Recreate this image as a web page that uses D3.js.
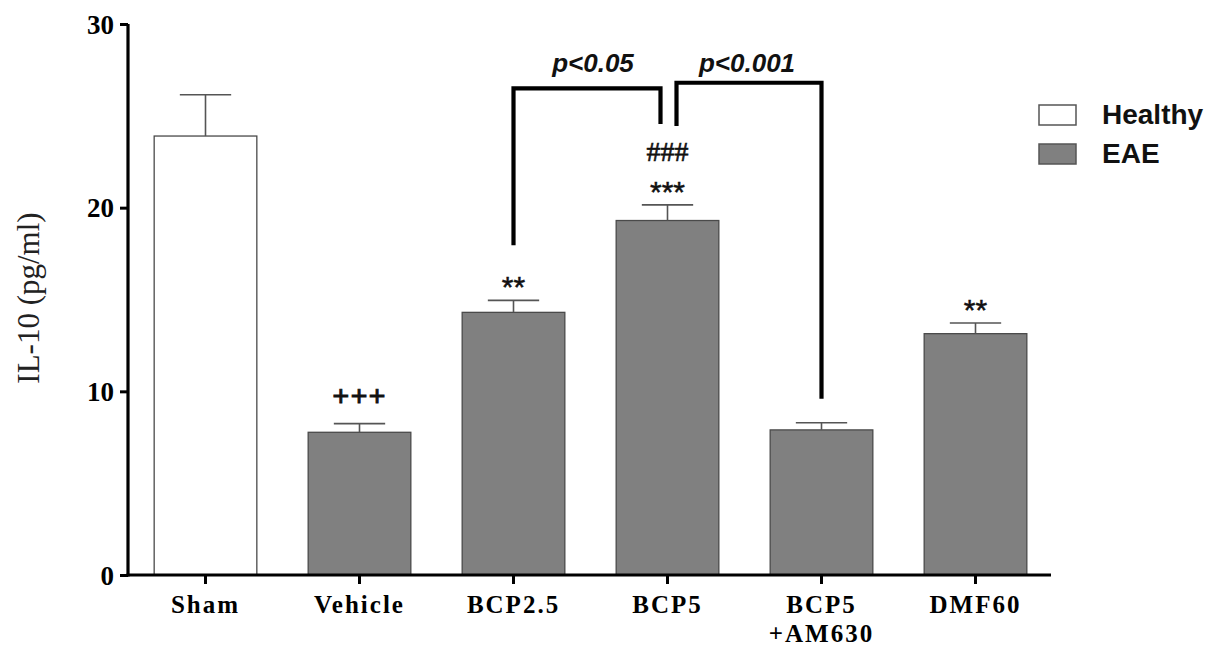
<!DOCTYPE html>
<html>
<head>
<meta charset="utf-8">
<script src="https://cdn.jsdelivr.net/npm/d3@7"></script>
<style>
  html, body { margin: 0; padding: 0; background: #fff; }
  svg { display: block; }
</style>
</head>
<body>
<svg id="chart" width="1217" height="650"></svg>
<script>
// IL-10 levels per treatment group (mean and SEM, pg/ml)
const categories = ["Sham", "Vehicle", "BCP2.5", "BCP5", "BCP5\n+AM630", "DMF60"];
const groups     = ["Healthy", "EAE", "EAE", "EAE", "EAE", "EAE"];
const means      = [23.9, 7.77, 14.3, 19.3, 7.9, 13.14];
const sems       = [2.25, 0.47, 0.65, 0.85, 0.39, 0.58];
const marks      = ["", "+++", "**", "***", "", "**"];
const yTicks     = [0, 10, 20, 30];
const legendKeys = ["Healthy", "EAE"];

// Comparison brackets: from/to group, top level and leg end levels (pg/ml)
const brackets = [
  { from: "BCP2.5", to: "BCP5", top: 26.5, leftEnd: 17.95, rightEnd: 24.55, label: "p<0.05", shiftTo: -7, labelDx: 6 },
  { from: "BCP5", to: "BCP5\n+AM630", top: 26.8, leftEnd: 24.45, rightEnd: 9.6, label: "p<0.001", shiftFrom: 9, labelDx: -2 }
];

const svg = d3.select("#chart");
const fill = { Healthy: "#ffffff", EAE: "#808080" };

const x = d3.scaleBand()
  .domain(categories)
  .range([128.5, 1052.5])
  .paddingInner(1 / 3)
  .paddingOuter(1 / 6);

const y = d3.scaleLinear().domain([0, 30]).range([575, 24]);

const serif = "'Liberation Serif', 'Times New Roman', serif";
const sans = "'Liberation Sans', Arial, sans-serif";

// Bars
svg.append("g").selectAll("rect")
  .data(categories)
  .join("rect")
  .attr("x", d => x(d))
  .attr("y", (d, i) => y(means[i]))
  .attr("width", x.bandwidth())
  .attr("height", (d, i) => y(0) - y(means[i]))
  .attr("fill", (d, i) => fill[groups[i]])
  .attr("stroke", "#4a4a4a")
  .attr("stroke-width", 1.3);

// Upper error bars
const eb = svg.append("g").attr("stroke", "#555").attr("stroke-width", 1.6);
categories.forEach((c, i) => {
  const cx = x(c) + x.bandwidth() / 2;
  const top = y(means[i] + sems[i]);
  eb.append("line").attr("x1", cx).attr("x2", cx).attr("y1", y(means[i])).attr("y2", top);
  eb.append("line").attr("x1", cx - x.bandwidth() / 4).attr("x2", cx + x.bandwidth() / 4)
    .attr("y1", top).attr("y2", top);
});

// Y axis
const yAxis = svg.append("g")
  .attr("transform", "translate(128,0)")
  .call(d3.axisLeft(y).tickValues(yTicks).tickSize(8).tickPadding(6));
yAxis.select(".domain").attr("stroke", "#000").attr("stroke-width", 3.2)
  .attr("d", `M0,${y(30)}V${y(0) + 1.5}`);
yAxis.selectAll(".tick line").attr("stroke", "#000").attr("stroke-width", 3);
yAxis.selectAll(".tick text")
  .attr("font-family", serif).attr("font-weight", "bold").attr("font-size", 27)
  .attr("fill", "#000").attr("dy", "0.34em");

// X axis
const xAxis = svg.append("g")
  .attr("transform", `translate(0,${y(0)})`)
  .call(d3.axisBottom(x).tickSize(9).tickFormat(""));
xAxis.select(".domain").attr("stroke", "#000").attr("stroke-width", 3.2)
  .attr("d", `M${126.5},0H${1051}`);
xAxis.selectAll(".tick line").attr("stroke", "#000").attr("stroke-width", 3);

// Category labels (multi-line where needed)
svg.append("g").selectAll("text")
  .data(categories)
  .join("text")
  .attr("x", d => x(d) + x.bandwidth() / 2)
  .attr("y", 612.5)
  .attr("text-anchor", "middle")
  .attr("font-family", serif).attr("font-weight", "bold").attr("font-size", 25)
  .attr("letter-spacing", 2)
  .each(function (d) {
    d.split("\n").forEach((line, k) => {
      d3.select(this).append("tspan")
        .attr("x", x(d) + x.bandwidth() / 2)
        .attr("dy", k === 0 ? 0 : 29)
        .text(line);
    });
  });

// Y axis title
svg.append("text")
  .attr("transform", `translate(39,${298}) rotate(-90)`)
  .attr("text-anchor", "middle")
  .attr("font-family", serif).attr("font-size", 31).attr("fill", "#222")
  .text("IL-10 (pg/ml)");

// Significance marks above error bars
categories.forEach((c, i) => {
  if (!marks[i]) return;
  const cx = x(c) + x.bandwidth() / 2;
  const top = y(means[i] + sems[i]);
  const isPlus = marks[i].startsWith("+");
  svg.append("text")
    .attr("x", cx)
    .attr("y", isPlus ? top - 18 : top - 3)
    .attr("text-anchor", "middle")
    .attr("font-family", isPlus ? serif : sans)
    .attr("font-weight", isPlus ? "bold" : "normal")
    .attr("font-size", 30)
    .attr("letter-spacing", isPlus ? 1 : 0)
    .attr("fill", "#111")
    .attr("stroke", "#111").attr("stroke-width", isPlus ? 0.9 : 0.5)
    .text(marks[i]);
});

// ### above BCP5
svg.append("text")
  .attr("x", x("BCP5") + x.bandwidth() / 2)
  .attr("y", y(means[3] + sems[3]) - 44)
  .attr("text-anchor", "middle")
  .attr("font-family", serif).attr("font-size", 28).attr("fill", "#111")
  .attr("stroke", "#111").attr("stroke-width", 0.6)
  .text("###");

// Comparison brackets
const bg = svg.append("g");
brackets.forEach(b => {
  const x1 = x(b.from) + x.bandwidth() / 2 + (b.shiftFrom || 0);
  const x2 = x(b.to) + x.bandwidth() / 2 + (b.shiftTo || 0);
  bg.append("path")
    .attr("d", `M${x1},${y(b.leftEnd)}V${y(b.top)}H${x2}V${y(b.rightEnd)}`)
    .attr("fill", "none").attr("stroke", "#000").attr("stroke-width", 4.2)
    .attr("stroke-linejoin", "miter");
  bg.append("text")
    .attr("x", (x1 + x2) / 2 + b.labelDx)
    .attr("y", 72)
    .attr("text-anchor", "middle")
    .attr("font-family", sans).attr("font-weight", "bold").attr("font-style", "italic")
    .attr("font-size", 26).attr("fill", "#111")
    .text(b.label);
});

// Legend
const lg = svg.append("g");
legendKeys.forEach((k, i) => {
  const yy = 105 + i * 39;
  lg.append("rect")
    .attr("x", 1039).attr("y", yy).attr("width", 37).attr("height", 20)
    .attr("fill", fill[k]).attr("stroke", "#555").attr("stroke-width", 1.5);
  lg.append("text")
    .attr("x", 1102).attr("y", yy + 19)
    .attr("font-family", sans).attr("font-weight", "bold").attr("font-size", 28)
    .attr("fill", "#111")
    .text(k);
});
</script>
</body>
</html>
